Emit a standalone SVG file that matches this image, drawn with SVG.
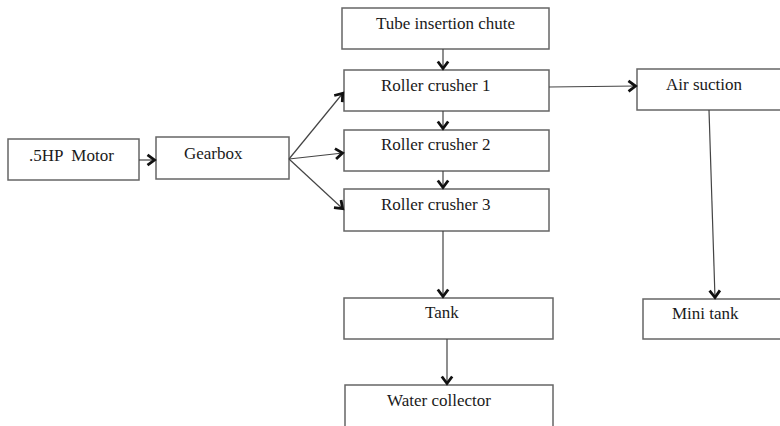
<svg xmlns="http://www.w3.org/2000/svg" width="780" height="426" viewBox="0 0 780 426">
<style>
.box{fill:#fff;stroke:#666;stroke-width:1.5}
.lbl{font-family:"Liberation Serif","Times New Roman",serif;font-size:17px;fill:#1a1a1a}
.c{fill:none;stroke:#444;stroke-width:1.2;marker-end:url(#ah)}
</style>
<defs>
<marker id="ah" markerUnits="userSpaceOnUse" markerWidth="14" markerHeight="14" viewBox="0 0 14 14" refX="11" refY="7" orient="auto">
<path d="M3.5,1.8 L10.5,7 L3.5,12.2" fill="none" stroke="#111" stroke-width="2.8"/>
</marker>
</defs>
<rect width="780" height="426" fill="#fff"/>
<g id="motor"><rect class="box" x="8" y="139" width="131" height="41"/><text class="lbl" x="29" y="161" xml:space="preserve">.5HP  Motor</text></g>
<g id="gearbox"><rect class="box" x="156" y="137" width="133" height="42"/><text class="lbl" x="184" y="159">Gearbox</text></g>
<g id="chute"><rect class="box" x="342" y="8" width="207" height="41"/><text class="lbl" x="376" y="29">Tube insertion chute</text></g>
<g id="rc1"><rect class="box" x="344" y="70" width="205" height="41"/><text class="lbl" x="381" y="91">Roller crusher 1</text></g>
<g id="rc2"><rect class="box" x="344" y="130" width="205" height="41"/><text class="lbl" x="381" y="150">Roller crusher 2</text></g>
<g id="rc3"><rect class="box" x="344" y="189" width="205" height="42"/><text class="lbl" x="381" y="210">Roller crusher 3</text></g>
<g id="air"><rect class="box" x="637" y="69" width="160" height="41"/><text class="lbl" x="666" y="90">Air suction</text></g>
<g id="tank"><rect class="box" x="344" y="298" width="209" height="41"/><text class="lbl" x="425" y="318">Tank</text></g>
<g id="water"><rect class="box" x="345" y="385" width="208" height="45"/><text class="lbl" x="387" y="406">Water collector</text></g>
<g id="mini"><rect class="box" x="643" y="299" width="160" height="40"/><text class="lbl" x="672" y="319">Mini tank</text></g>
<g id="connectors">
<line class="c" x1="139" y1="160" x2="155" y2="160"/>
<line class="c" x1="289" y1="159" x2="343" y2="93"/>
<line class="c" x1="289" y1="159" x2="343" y2="153"/>
<line class="c" x1="289" y1="159" x2="343" y2="209"/>
<line class="c" x1="443" y1="49" x2="443" y2="69"/>
<line class="c" x1="443" y1="111" x2="443" y2="129"/>
<line class="c" x1="443" y1="171" x2="443" y2="188"/>
<line class="c" x1="443" y1="231" x2="443" y2="297"/>
<line class="c" x1="447" y1="339" x2="447" y2="384"/>
<line class="c" x1="549" y1="87" x2="636" y2="86"/>
<line class="c" x1="709" y1="110" x2="715" y2="298"/>
</g>
</svg>
